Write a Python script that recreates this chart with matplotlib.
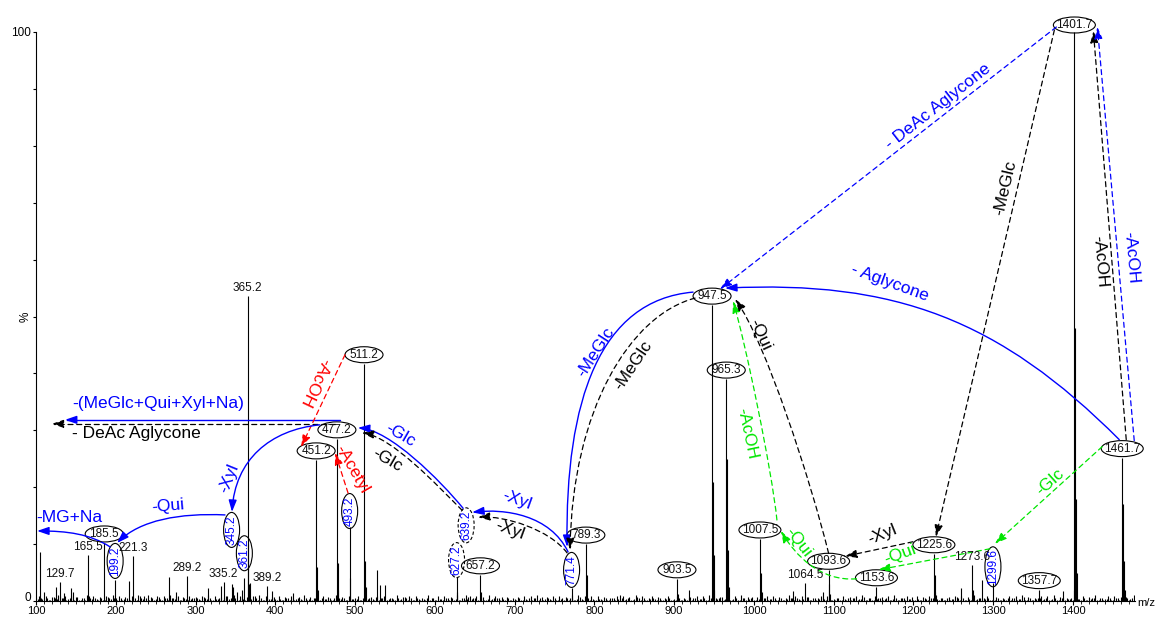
import matplotlib
matplotlib.use("Agg")
import matplotlib.pyplot as plt
from matplotlib.patches import Ellipse, FancyArrowPatch
from matplotlib.path import Path
from matplotlib.transforms import IdentityTransform
from matplotlib.ticker import MultipleLocator, FixedLocator

plt.rcParams['font.family'] = ['Liberation Sans', 'DejaVu Sans']

# ---------------------------------------------------------------- data ----
# annotated ions (m/z, relative intensity %)
ion_mz = [129.7, 165.5, 185.5, 199.2, 221.3, 289.2, 335.2, 345.2, 361.2, 365.2,
          389.2, 451.2, 477.2, 493.2, 511.2, 627.2, 639.2, 657.2, 771.4, 789.3,
          903.5, 947.5, 965.3, 1007.5, 1064.5, 1093.6, 1153.6, 1225.6, 1273.6,
          1299.6, 1357.7, 1401.7, 1461.7]
ion_int = [3.3, 8.1, 10.2, 3.7, 7.9, 4.4, 3.3, 3.0, 4.0, 53.6,
           2.6, 24.8, 28.5, 13.0, 41.7, 4.2, 1.0, 4.6, 2.3, 10.0,
           3.9, 52.0, 39.0, 10.9, 3.2, 5.4, 2.5, 8.3, 6.3,
           3.2, 2.0, 100.0, 25.2]

# unlabelled fragments and isotope peaks
minor_mz = [105.0, 110.0, 125.0, 135.5, 143.5, 146.5, 216.6, 240.0, 266.8, 275.0,
            315.0, 331.5, 346.6, 351.6, 357.8, 366.2, 367.2, 368.3, 395.5, 421.8,
            452.2, 453.2, 478.2, 479.2, 494.2, 512.2, 513.2, 527.0, 531.0, 537.5,
            628.2, 658.2, 772.4, 790.3, 832.0, 904.5, 918.6, 948.5, 949.5, 950.5,
            966.3, 967.3, 968.3, 1008.5, 1009.5, 1049.0, 1086.6, 1094.6, 1095.6,
            1226.6, 1227.6, 1259.6, 1274.6, 1285.9, 1387.5, 1400.7, 1402.7, 1403.7,
            1404.7, 1462.7, 1463.7, 1464.7]
minor_int = [8.6, 1.6, 2.5, 1.4, 2.3, 1.6, 3.5, 1.0, 4.2, 1.6,
             2.3, 2.6, 2.5, 1.6, 2.0, 10.0, 3.0, 3.2, 1.8, 1.4,
             6.0, 2.0, 6.7, 2.0, 4.0, 7.0, 2.5, 5.4, 2.8, 2.8,
             1.5, 1.5, 1.0, 4.5, 1.0, 1.2, 2.0, 21.0, 8.0, 2.0,
             25.0, 9.0, 2.5, 5.0, 1.5, 1.8, 1.6, 3.0, 1.2,
             4.5, 1.5, 2.3, 2.0, 3.7, 1.8, 2.0, 48.0, 18.0,
             5.0, 17.0, 7.0, 2.0]

# baseline noise, one digit per 4 m/z (digit x 0.12 %); two interleaved runs
noise_unit = 0.12
noise_step = 4.0
noise_start_a = 100.0
noise_rows_a = [
    "5837264958372615947362859",
    "4726385947261837495826374",
    "6384927365849273658492736",
    "3826471539264817352946183",
    "4729361847253916482735194",
    "2837461925374816293746152",
    "3618274951638274615293847",
    "2736154827361948257361482",
    "3725164837291546382719465",
    "2614837261594837261548372",
    "3527164839251746382915473",
    "2816374925163847261935482",
    "3625174839261547382916453",
    "2738164925371846253917462",
]
noise_start_b = 102.0
noise_rows_b = [
    "3425163742536142735241634",
    "2534162735243615243725134",
    "4263513427354162537241536",
    "2315243615324153624135243",
    "3142536241352436152413524",
    "1324253142635241325413624",
    "2413524163524132541362513",
    "1325241352413624135241352",
    "2413524135241362413524136",
    "1324135241352413624135241",
    "2413524136241352413524136",
    "1325241352413624135241352",
    "2413524136241352413524135",
    "1324135241352413624135241",
]

x_ticks = list(range(100, 1500, 100))
y_ticks = list(range(0, 101, 10))
y_tick_labels = ['', '', '', '', '', '%', '', '', '', '', '100']

# ------------------------------------------------------------- figure -----
W, H, DPI = 1156, 617, 100
fig = plt.figure(figsize=(W / DPI, H / DPI), dpi=DPI)
ax = fig.add_axes([36 / W, 16 / H, 1099 / W, 569 / H])
ax.set_xlim(100, 1477.7)
ax.set_ylim(0, 100)

for start, rows in ((noise_start_a, noise_rows_a), (noise_start_b, noise_rows_b)):
    digits = "".join(rows)
    n_mz = [start + i * noise_step for i in range(len(digits))]
    n_int = [int(c) * noise_unit for c in digits]
    ax.vlines(n_mz, 0, n_int, color='black', lw=0.8)

ax.vlines(minor_mz, 0, minor_int, color='black', lw=0.8)
ax.vlines(ion_mz, 0, ion_int, color='black', lw=0.8)

for s in ('top', 'right'):
    ax.spines[s].set_visible(False)
for s in ('left', 'bottom'):
    ax.spines[s].set_linewidth(0.8)

ax.xaxis.set_major_locator(FixedLocator(x_ticks))
ax.xaxis.set_minor_locator(MultipleLocator(10))
ax.tick_params(axis='x', which='major', direction='out', length=3, width=0.8,
               labelsize=8, pad=0.5)
ax.tick_params(axis='x', which='minor', direction='out', length=2, width=0.6)
ax.set_yticks(y_ticks)
ax.set_yticklabels(y_tick_labels)
ax.tick_params(axis='y', direction='out', length=2.5, width=0.8, labelsize=8.5, pad=1)
ax.get_yticklabels()[5].set_rotation(90)
ax.get_yticklabels()[5].set_va('center')

T = IdentityTransform()
# zero label of the intensity axis, nudged clear of the first m/z label
x0, y0 = ax.transData.transform((100, 0))
fig.text(x0 - 4.5, y0 + 3, '0', transform=T, fontsize=8.5, ha='right', va='center')
fig.text(1137 / W, 1 - 603 / H, 'm/z', fontsize=8, ha='left', va='center')

# --------------------------------------------------------- annotations ----
BLUE, GREEN, RED, BLACK = '#0000ff', '#00e600', '#ff0000', 'black'

# label style and lift (pixels above the peak top)
label_layout = {
    '129.7': ('plain', 2), '165.5': ('plain', 2), '221.3': ('plain', 2),
    '289.2': ('plain', 2), '335.2': ('plain', 2), '365.2': ('plain', 2),
    '389.2': ('plain', 2), '1064.5': ('plain', 2), '1273.6': ('plain', 2),
    '185.5': ('oval', 9), '451.2': ('oval', 9), '477.2': ('oval', 9),
    '511.2': ('oval', 9), '657.2': ('oval', 9), '789.3': ('oval', 9),
    '903.5': ('oval', 9), '947.5': ('oval', 9), '965.3': ('oval', 9),
    '1007.5': ('oval', 9), '1093.6': ('oval', 9), '1153.6': ('oval', 9),
    '1225.6': ('oval', 9), '1357.7': ('oval', 9), '1401.7': ('oval', 7),
    '1461.7': ('oval', 9),
    '199.2': ('vert', 19), '345.2': ('vert', 54), '361.2': ('vert', 25),
    '493.2': ('vert', 16), '627.2': ('vdash', 17), '639.2': ('vdash', 70),
    '771.4': ('vert', 18), '1299.6': ('vert', 16),
}

centre = {}
for mz, h in zip(ion_mz, ion_int):
    key = f"{mz:.1f}"
    kind, lift = label_layout[key]
    x, y = ax.transData.transform((mz, h))
    if kind == 'plain':
        fig.text(x, y + lift, key, transform=T, ha='center', va='bottom',
                 fontsize=8.5, color='#111111')
        centre[key] = (x, y + lift + 6)
        continue
    yc = y + lift
    centre[key] = (x, yc)
    n = len(key)
    if kind == 'oval':
        fig.add_artist(Ellipse((x, yc), 4 * n + 18, 16, fill=False, ec='black',
                               lw=0.8, transform=T))
        fig.text(x, yc, key, transform=T, ha='center', va='center', fontsize=8.5,
                 color='#111111')
    else:
        ls = (0, (3, 2)) if kind == 'vdash' else '-'
        fig.add_artist(Ellipse((x, yc), 16, 5 * n + 10, fill=False, ec='black',
                               lw=0.8, ls=ls, transform=T))
        fig.text(x, yc, key, transform=T, ha='center', va='center', fontsize=8.5,
                 color=BLUE, rotation=90)


def pt(key, dx, dy):
    cx, cy = centre[key]
    return (cx + dx, cy - dy)


def arrow(color, dashed, tail, head, c1=None, c2=None):
    p0 = pt(*tail)
    p3 = pt(*head)
    if c1 is None:
        verts = [p0, p3]
        codes = [Path.MOVETO, Path.LINETO]
    else:
        q1 = (p0[0] + c1[0], p0[1] - c1[1])
        q2 = (p3[0] + c2[0], p3[1] - c2[1])
        verts = [p0, q1, q2, p3]
        codes = [Path.MOVETO, Path.CURVE4, Path.CURVE4, Path.CURVE4]
    patch = FancyArrowPatch(path=Path(verts, codes),
                            arrowstyle='-|>,head_length=7,head_width=2.4',
                            mutation_scale=1, color=color,
                            lw=0.9 if dashed else 1.0,
                            linestyle=(0, (4, 3)) if dashed else '-',
                            transform=T, clip_on=False)
    fig.add_artist(patch)


def label(text, color, key, dx, dy, rot=0, ha='center'):
    x, y = pt(key, dx, dy)
    fig.text(x, y, text, transform=T, color=color, fontsize=12.5, rotation=rot,
             rotation_mode='anchor', ha=ha, va='center')


# losses from the sodiated molecular ion 1461.7
arrow(BLUE, True, ('1401.7', -18, 2), ('947.5', 8, -7))
label('- DeAc Aglycone', BLUE, '1401.7', -136, 81, 38)
arrow(BLACK, True, ('1401.7', -20, 5), ('1225.6', 2, -8))
label('-MeGlc', BLACK, '1401.7', -69, 163, 76.8)
arrow(BLACK, True, ('1461.7', 4, -9), ('1401.7', 19, 6))
label('-AcOH', BLACK, '1401.7', 26, 237, -85)
arrow(BLUE, True, ('1461.7', 12, -8), ('1401.7', 23, 2))
label('-AcOH', BLUE, '1401.7', 57, 233, -85)
arrow(BLUE, False, ('1461.7', -3, -9), ('947.5', 13, -8), (-120, -120), (170, -8))
label('- Aglycone', BLUE, '947.5', 178, -13, -20)
arrow(GREEN, True, ('1461.7', -20, -2), ('1299.6', 2, -23))
label('-Glc', GREEN, '1461.7', -72, 33, 42)
arrow(GREEN, True, ('1299.6', -3, -18), ('1153.6', 2, -8))
label('-Qui', GREEN, '1153.6', 24, -23, 20)
arrow(GREEN, True, ('1153.6', -20, 1), ('1007.5', 21, 1), (-36, 3), (14, 24))
label('-Qui', GREEN, '1007.5', 38, 12, -52)
arrow(GREEN, True, ('1007.5', 17, -10), ('947.5', 21, 5), (-5, -50), (12, 40))
label('-AcOH', GREEN, '947.5', 35, 137, -78)
arrow(BLACK, True, ('1225.6', -21, -3), ('1093.6', 16.5, -5))
label('-Xyl', BLACK, '1093.6', 54, -27, 22)
arrow(BLACK, True, ('1093.6', 0, -8), ('947.5', 23, 3), (-18, -73), (30, 41))
label('-Qui', BLACK, '947.5', 48, 39, -65)

# sugar chain losses from 947.5
arrow(BLUE, False, ('947.5', -19, -4), ('771.4', -4.5, -23), (-93, 8), (-2, -147))
label('-MeGlc', BLUE, '947.5', -116, 56, 57)
arrow(BLACK, True, ('947.5', -17, 2), ('771.4', -1.5, -20), (-65, 17), (2, -140))
label('-MeGlc', BLACK, '947.5', -79, 69, 56)
arrow(BLUE, False, ('771.4', -3.5, -18), ('639.2', 6, -13), (-18, -37), (33, -4))
label('-Xyl', BLUE, '639.2', 51, -25, -20)
arrow(BLACK, True, ('771.4', -4.5, -17), ('639.2', 12, -8), (-17, -23), (27, -2))
label('-Xyl', BLACK, '639.2', 44, 5, -20)
arrow(BLUE, False, ('639.2', -3, -17), ('477.2', 21, -2), (-23, -28), (32, 2))
label('-Glc', BLUE, '477.2', 63, 5, -30)
arrow(BLACK, True, ('639.2', -4, -15), ('477.2', 25, 3), (-25, -25), (30, 4))
label('-Glc', BLACK, '477.2', 50, 30, -30)

# low-mass region
arrow(BLUE, False, ('477.2', 3, -10), ('477.2', -272, -10))
label('-(MeGlc+Qui+Xyl+Na)', BLUE, '477.2', -265, -26, 0, 'left')
arrow(BLACK, True, ('477.2', -2, -6), ('477.2', -285, -6))
label('- DeAc Aglycone', BLACK, '477.2', -265, 4, 0, 'left')
arrow(RED, True, ('511.2', -19, 0), ('451.2', -15, -4))
label('-AcOH', RED, '511.2', -49, 28, -115.6)
arrow(RED, True, ('493.2', -1.6, -18), ('451.2', 19, 2))
label('-Acetyl', RED, '493.2', 2, -42, -60)
arrow(BLUE, False, ('477.2', -17, -5), ('345.2', 0.4, -18), (-50, 5), (3, -52))
label('-Xyl', BLUE, '345.2', -3, -52, 68)
arrow(BLUE, False, ('345.2', -6.6, -15), ('199.2', 2, -18), (-45, -2), (23, -23))
label('-Qui', BLUE, '345.2', -64, -24, 5)
arrow(BLUE, False, ('199.2', -5, -14), ('199.2', -78, -30), (-20, -13), (30, 0))
label('-MG+Na', BLUE, '199.2', -79, -43, 0, 'left')

fig.savefig('out.png', dpi=DPI)
